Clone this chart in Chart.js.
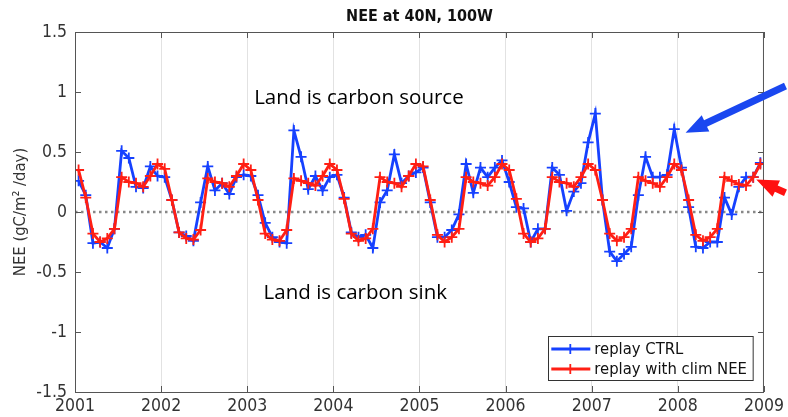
<!DOCTYPE html>
<html>
<head>
<meta charset="utf-8">
<title>NEE at 40N, 100W</title>
<script src="https://cdn.jsdelivr.net/npm/chart.js@4.4.1/dist/chart.umd.min.js"></script>
<style>
    html, body { margin: 0; padding: 0; background: #fff; }
    #wrap { width: 788px; height: 417px; position: relative; }
</style>
</head>
<body>
<div id="wrap"><canvas id="neeChart" width="788" height="417"></canvas></div>
<script>
// Monthly NEE (gC/m2/day), Jan..Dec for each year
const years = [2001, 2002, 2003, 2004, 2005, 2006, 2007, 2008];
const yearTicks = [2001, 2002, 2003, 2004, 2005, 2006, 2007, 2008, 2009];
const nTicks = [-1.5, -1, -0.5, 0, 0.5, 1, 1.5];

const ctrlValues = [
    0.26, 0.14, -0.26, -0.25, -0.30, -0.14, 0.51, 0.45, 0.21, 0.20, 0.38, 0.30,
    0.29, 0.10, -0.17, -0.20, -0.24, 0.08, 0.38, 0.18, 0.24, 0.15, 0.29, 0.31,
    0.30, 0.14, -0.09, -0.21, -0.25, -0.26, 0.68, 0.46, 0.19, 0.30, 0.18, 0.29,
    0.31, 0.12, -0.17, -0.21, -0.19, -0.30, 0.08, 0.18, 0.48, 0.24, 0.30, 0.33,
    0.37, 0.08, -0.21, -0.21, -0.15, -0.02, 0.40, 0.16, 0.37, 0.29, 0.37, 0.43,
    0.25, 0.04, 0.03, -0.25, -0.14, -0.14, 0.37, 0.31, 0.01, 0.17, 0.24, 0.58,
    0.82, 0.10, -0.33, -0.41, -0.35, -0.29, 0.14, 0.46, 0.29, 0.29, 0.31, 0.69,
    0.37, 0.04, -0.29, -0.30, -0.25, -0.25, 0.12, -0.02, 0.21, 0.29, 0.29, 0.41
];

const climValues = [
    0.35, 0.12, -0.18, -0.25, -0.22, -0.14, 0.29, 0.25, 0.24, 0.21, 0.30, 0.40,
    0.36, 0.10, -0.17, -0.22, -0.23, -0.15, 0.28, 0.25, 0.24, 0.21, 0.30, 0.40,
    0.35, 0.10, -0.18, -0.23, -0.24, -0.15, 0.28, 0.26, 0.24, 0.22, 0.30, 0.40,
    0.35, 0.11, -0.18, -0.24, -0.22, -0.14, 0.29, 0.25, 0.24, 0.21, 0.30, 0.40,
    0.38, 0.10, -0.19, -0.25, -0.21, -0.14, 0.29, 0.25, 0.24, 0.22, 0.29, 0.40,
    0.35, 0.11, -0.18, -0.25, -0.22, -0.14, 0.29, 0.25, 0.24, 0.21, 0.29, 0.40,
    0.35, 0.10, -0.18, -0.24, -0.21, -0.14, 0.29, 0.26, 0.24, 0.21, 0.29, 0.40,
    0.35, 0.10, -0.19, -0.24, -0.21, -0.14, 0.29, 0.26, 0.23, 0.22, 0.29, 0.40
];

const seriesNames = ['replay CTRL', 'replay with clim NEE'];
const seriesColors = ['#1641ff', '#ff1f14'];

// annotation text and arrows, placed in data units
const notes = [
    { text: 'Land is carbon source', x: 2003.08, y: 0.95 },
    { text: 'Land is carbon sink', x: 2003.19, y: -0.675 }
];
const arrows = [
    { color: '#1a47f0', tip: [2008.09, 0.66], tail: [2009.25, 1.05] },
    { color: '#ff1010', tip: [2008.91, 0.27], tail: [2009.25, 0.16] }
];

const narrow = '"Liberation Sans Narrow", "DejaVu Sans Condensed", sans-serif';

// mid-month positions along the year axis
const monthX = years.flatMap(yr => Array.from({ length: 12 }, (_, m) => yr + (m + 0.5) / 12));
const toPoints = vals => vals.map((v, i) => ({ x: monthX[i], y: v }));

function drawArrow(ctx, x0, y0, x1, y1, shaft, headLen, headW, color) {
    const ang = Math.atan2(y1 - y0, x1 - x0);
    const len = Math.hypot(x1 - x0, y1 - y0);
    ctx.save();
    ctx.translate(x0, y0);
    ctx.rotate(ang);
    ctx.fillStyle = color;
    ctx.beginPath();
    ctx.moveTo(0, -shaft / 2);
    ctx.lineTo(len - headLen, -shaft / 2);
    ctx.lineTo(len - headLen, -headW / 2);
    ctx.lineTo(len, 0);
    ctx.lineTo(len - headLen, headW / 2);
    ctx.lineTo(len - headLen, shaft / 2);
    ctx.lineTo(0, shaft / 2);
    ctx.closePath();
    ctx.fill();
    ctx.restore();
}

function drawCross(ctx, cx, cy, r) {
    ctx.beginPath();
    ctx.moveTo(cx - r, cy); ctx.lineTo(cx + r, cy);
    ctx.moveTo(cx, cy - r); ctx.lineTo(cx, cy + r);
    ctx.stroke();
}

const matlabFrame = {
    id: 'matlabFrame',
    beforeDatasetsDraw(chart) {
        const { ctx, chartArea: a, scales: { y } } = chart;
        const y0 = y.getPixelForValue(0);
        ctx.save();
        ctx.strokeStyle = '#888';
        ctx.lineWidth = 2.5;
        ctx.setLineDash([2.5, 3.5]);
        ctx.beginPath();
        ctx.moveTo(a.left, y0);
        ctx.lineTo(a.right, y0);
        ctx.stroke();
        ctx.restore();
    },
    afterDraw(chart) {
        const { ctx, chartArea: a, scales: { x, y } } = chart;
        ctx.save();

        // box and inward ticks
        ctx.strokeStyle = '#555';
        ctx.lineWidth = 1;
        ctx.strokeRect(a.left + 0.5, a.top + 0.5, a.right - a.left - 1, a.bottom - a.top);
        ctx.beginPath();
        yearTicks.forEach(t => {
            const px = Math.round(x.getPixelForValue(t)) + 0.5;
            ctx.moveTo(px, a.bottom); ctx.lineTo(px, a.bottom - 6);
            ctx.moveTo(px, a.top); ctx.lineTo(px, a.top + 6);
        });
        nTicks.forEach(t => {
            const py = Math.round(y.getPixelForValue(t)) + 0.5;
            ctx.moveTo(a.left, py); ctx.lineTo(a.left + 6, py);
            ctx.moveTo(a.right, py); ctx.lineTo(a.right - 6, py);
        });
        ctx.stroke();

        // title
        ctx.fillStyle = '#111';
        ctx.font = 'bold 16px ' + narrow;
        ctx.textAlign = 'center';
        ctx.textBaseline = 'middle';
        ctx.fillText('NEE at 40N, 100W', (a.left + a.right) / 2, 17);

        // annotations
        ctx.font = '20.5px "Open Sans", sans-serif';
        ctx.textAlign = 'left';
        ctx.fillStyle = '#000';
        notes.forEach(n => ctx.fillText(n.text, x.getPixelForValue(n.x), y.getPixelForValue(n.y)));

        // arrows
        arrows.forEach(ar => {
            drawArrow(ctx,
                x.getPixelForValue(ar.tail[0]), y.getPixelForValue(ar.tail[1]),
                x.getPixelForValue(ar.tip[0]), y.getPixelForValue(ar.tip[1]),
                7, 22, 18, ar.color);
        });

        // legend box in the lower right corner
        ctx.font = '16.5px ' + narrow;
        const textW = Math.max(...seriesNames.map(s => ctx.measureText(s).width));
        const boxW = 47 + textW + 5;
        const boxH = 44;
        const bx = a.right - 11 - boxW;
        const by = a.bottom - 12 - boxH;
        ctx.fillStyle = '#fff';
        ctx.fillRect(bx, by, boxW, boxH);
        ctx.strokeStyle = '#333';
        ctx.lineWidth = 1;
        ctx.strokeRect(Math.round(bx) + 0.5, Math.round(by) + 0.5, boxW, boxH);
        seriesNames.forEach((name, i) => {
            const ly = by + 13 + i * 20;
            ctx.strokeStyle = seriesColors[i];
            ctx.lineWidth = 2.8;
            ctx.beginPath();
            ctx.moveTo(bx + 3, ly); ctx.lineTo(bx + 42, ly);
            ctx.stroke();
            ctx.lineWidth = 1.8;
            drawCross(ctx, bx + 22, ly, 5);
            ctx.fillStyle = '#111';
            ctx.textAlign = 'left';
            ctx.fillText(name, bx + 46, ly + 1);
        });

        ctx.restore();
    }
};

new Chart(document.getElementById('neeChart'), {
    type: 'line',
    data: {
        datasets: [
            {
                label: seriesNames[0],
                data: toPoints(ctrlValues),
                borderColor: seriesColors[0],
                backgroundColor: seriesColors[0],
                borderWidth: 2.8,
                pointStyle: 'cross',
                pointRadius: 5.5,
                pointBorderWidth: 1.8,
                tension: 0,
                order: 2
            },
            {
                label: seriesNames[1],
                data: toPoints(climValues),
                borderColor: seriesColors[1],
                backgroundColor: seriesColors[1],
                borderWidth: 2.8,
                pointStyle: 'cross',
                pointRadius: 5.5,
                pointBorderWidth: 1.8,
                tension: 0,
                order: 1
            }
        ]
    },
    options: {
        responsive: false,
        animation: false,
        layout: { padding: { top: 32, right: 20, left: 0, bottom: 0 } },
        plugins: {
            legend: { display: false },
            tooltip: { enabled: false },
            title: { display: false }
        },
        scales: {
            x: {
                type: 'linear',
                min: 2001,
                max: 2009,
                afterBuildTicks: scale => { scale.ticks = yearTicks.map(v => ({ value: v })); },
                afterFit: scale => { scale.height = 25; },
                ticks: {
                    callback: v => String(v),
                    color: '#333',
                    font: { family: narrow, size: 17.5 },
                    padding: 4,
                    maxRotation: 0,
                    autoSkip: false
                },
                grid: { color: '#e2e2e2', drawTicks: false },
                border: { display: false }
            },
            y: {
                min: -1.5,
                max: 1.5,
                afterBuildTicks: scale => { scale.ticks = nTicks.map(v => ({ value: v })); },
                afterFit: scale => { scale.width = 75; },
                ticks: {
                    callback: v => String(v),
                    color: '#333',
                    font: { family: narrow, size: 17.5 },
                    padding: 8
                },
                grid: { display: false, drawTicks: false },
                border: { display: false },
                title: {
                    display: true,
                    text: 'NEE (gC/m² /day)',
                    color: '#333',
                    font: { family: narrow, size: 16.5 },
                    padding: { top: 11, bottom: 0 }
                }
            }
        }
    },
    plugins: [matlabFrame]
});
</script>
</body>
</html>
